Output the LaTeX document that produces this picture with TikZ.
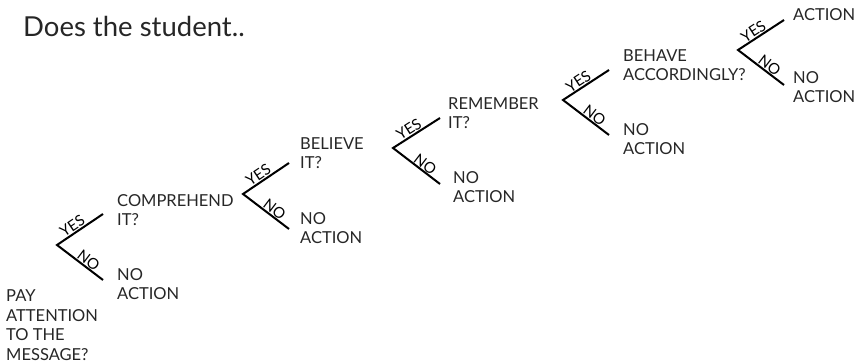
\documentclass[tikz,border=0pt]{standalone}
\usepackage{fontspec}
\setmainfont{Lato}
\usetikzlibrary{calc}

\begin{document}
\begin{tikzpicture}[x=1pt,y=-1pt,
  branch/.style={line width=2pt,line join=miter},
  yes/.style={pos=0.42,sloped,above,inner sep=1.5pt,font=\fontsize{15}{15}\selectfont},
  no/.style={pos=0.6,sloped,above,inner sep=1pt,font=\fontsize{15}{15}\selectfont},
  txt/.style={anchor=west,align=left,inner sep=0pt,text=black!85,font=\fontsize{16.5}{19.5}\selectfont}]
\useasboundingbox (0,0) rectangle (856,363);
\node[anchor=base west,inner sep=0pt,text=black!85,font=\fontsize{27.5}{28}\selectfont] (title) at (23,37) {Does the student..};

% first question
\node[txt] (pay) at (6,325) {PAY\\ATTENTION\\TO THE\\MESSAGE?};
\coordinate (v1) at (57,245);
\coordinate (y1) at (103,214);
\coordinate (n1) at (103,280);
\draw[branch] (y1) -- (v1) -- (n1);
\path (v1) -- node[yes] {YES} (y1) (v1) -- node[no] {NO} (n1);
\node[txt] (comp) at (117,210) {COMPREHEND\\IT?};
\node[txt] (no1) at (117,284) {NO\\ACTION};

% second
\coordinate (v2) at (243,194);
\coordinate (y2) at (289,163);
\coordinate (n2) at (289,229);
\draw[branch] (y2) -- (v2) -- (n2);
\path (v2) -- node[yes] {YES} (y2) (v2) -- node[no] {NO} (n2);
\node[txt] (believe) at (300,153) {BELIEVE\\IT?};
\node[txt] (no2) at (300,228) {NO\\ACTION};

% third
\coordinate (v3) at (393,148);
\coordinate (y3) at (440,118);
\coordinate (n3) at (440,184);
\draw[branch] (y3) -- (v3) -- (n3);
\path (v3) -- node[yes] {YES} (y3) (v3) -- node[no] {NO} (n3);
\node[txt] (remember) at (448,113) {REMEMBER\\IT?};
\node[txt] (no3) at (453,187) {NO\\ACTION};

% fourth
\coordinate (v4) at (563,100);
\coordinate (y4) at (609,70);
\coordinate (n4) at (609,135);
\draw[branch] (y4) -- (v4) -- (n4);
\path (v4) -- node[yes] {YES} (y4) (v4) -- node[no] {NO} (n4);
\node[txt] (behave) at (623,65) {BEHAVE\\ACCORDINGLY?};
\node[txt] (no4) at (623,139) {NO\\ACTION};

% last
\coordinate (v5) at (738,50);
\coordinate (y5) at (784,20);
\coordinate (n5) at (784,85);
\draw[branch] (y5) -- (v5) -- (n5);
\path (v5) -- node[yes] {YES} (y5) (v5) -- node[no] {NO} (n5);
\node[txt] (act) at (793,15) {ACTION};
\node[txt] (no5) at (793,87) {NO\\ACTION};
\end{tikzpicture}
\end{document}
